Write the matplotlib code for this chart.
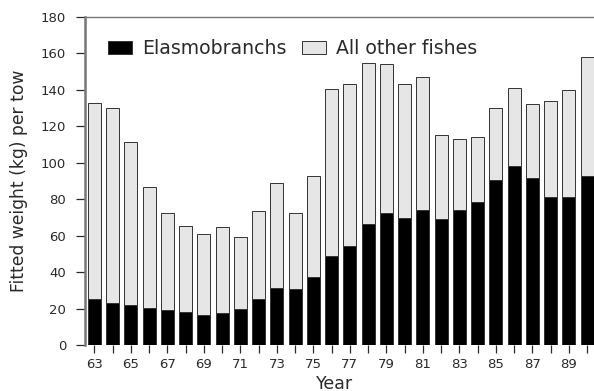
import numpy as np
import matplotlib.pyplot as plt

# Fitted catch per tow, by survey year (19xx)
years = np.arange(63, 91)
elasmobranchs = [25.1, 22.9, 22.1, 20.3, 19.0, 17.9, 16.6, 17.4, 19.6, 25.1,
                 31.3, 30.7, 37.5, 48.8, 54.5, 66.4, 72.6, 69.9, 74.3, 69.3,
                 74.1, 78.5, 90.7, 98.4, 91.7, 81.1, 81.1, 92.8]
total = [133.0, 130.1, 111.4, 86.9, 72.3, 65.3, 61.1, 64.9, 59.4, 73.4,
         88.7, 72.6, 92.6, 140.3, 143.1, 154.8, 154.1, 143.1, 146.9, 115.4,
         113.1, 114.2, 129.9, 140.9, 132.1, 133.8, 140.1, 157.9]
other_fishes = np.array(total) - np.array(elasmobranchs)

tick_labels = [str(y) if (y - 63) % 2 == 0 else '' for y in years]

fig = plt.figure(figsize=(5.94, 3.91), dpi=100)
ax = fig.add_axes([0.143, 0.1176, 0.857, 0.8389])

width = 0.71
ax.bar(years, elasmobranchs, width=width, color='black', edgecolor='#333333',
       linewidth=0.7, label='Elasmobranchs')
ax.bar(years, other_fishes, width=width, bottom=elasmobranchs, color='#e6e6e6',
       edgecolor='#333333', linewidth=0.7, label='All other fishes')

ax.set_xlim(62.48, 90.38)
ax.set_ylim(0, 180)
ax.set_yticks(np.arange(0, 181, 20))
ax.set_xticks(years)
ax.set_xticklabels(tick_labels)

ax.tick_params(axis='y', direction='out', length=6.5, width=0.9, pad=7,
               labelsize=9.5, colors='#2a2a2a')
ax.tick_params(axis='x', direction='out', length=6, width=0.9, pad=3,
               labelsize=9.5, colors='#2a2a2a')

for side in ['right', 'bottom']:
    ax.spines[side].set_visible(False)
ax.spines['left'].set_color('#777777')
ax.spines['left'].set_linewidth(1.8)
ax.spines['top'].set_color('#777777')
ax.spines['top'].set_linewidth(1.0)

ax.set_ylabel('Fitted weight (kg) per tow', fontsize=12.3, color='#2a2a2a')
ax.set_xlabel('Year', fontsize=12.5, color='#2a2a2a')
ax.yaxis.set_label_coords(-0.112, 0.5)
ax.xaxis.set_label_coords(0.49, -0.09)

leg = ax.legend(loc='center left', bbox_to_anchor=(0.045, 0.904), ncol=2,
                frameon=False, fontsize=13.6, borderpad=0, borderaxespad=0,
                handlelength=1.28, handleheight=0.7, handletextpad=0.55,
                columnspacing=0.78)
for txt in leg.get_texts():
    txt.set_color('#2a2a2a')

fig.savefig('out.png', dpi=100)
